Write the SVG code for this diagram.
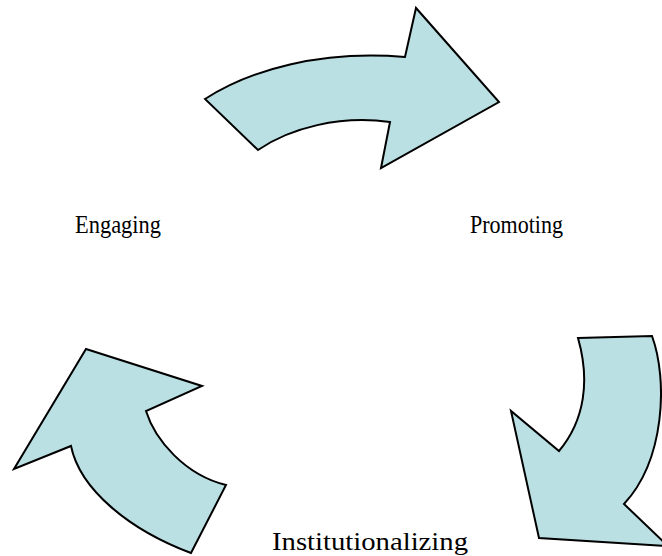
<svg xmlns="http://www.w3.org/2000/svg" width="662" height="556" viewBox="0 0 662 556">
<style>
.arrow{fill:#bae0e3;stroke:#000;stroke-width:2;stroke-linejoin:miter}
.lbl{font-family:"Liberation Serif","Times New Roman",serif;font-size:25px;fill:#000}
</style>
<rect width="662" height="556" fill="#fff"/>
<g id="connectors">
<path id="arrow-top" class="arrow" d="M205,99 C250,70 320,50 405,57 L416,8 L499,102 L381,168 L390,122 C340,115 290,128 258,150 Z"/>
<path id="arrow-right" class="arrow" d="M578,338 L652,336 C668,380 665,460 624,504 L668,546 L539,538 L511,411 L559,451 C585,420 590,380 578,338 Z"/>
<path id="arrow-left" class="arrow" d="M226,485 C185,475 155,440 146,411 L202,386 L86,349 L14,469 L71,446 C80,490 130,530 191,553 Z"/>
</g>
<g id="engaging"><text class="lbl" x="75" y="233" textLength="86" lengthAdjust="spacingAndGlyphs">Engaging</text></g>
<g id="promoting"><text class="lbl" x="470" y="233" textLength="93" lengthAdjust="spacingAndGlyphs">Promoting</text></g>
<g id="institutionalizing"><text class="lbl" x="272" y="550" textLength="196" lengthAdjust="spacingAndGlyphs">Institutionalizing</text></g>
</svg>
